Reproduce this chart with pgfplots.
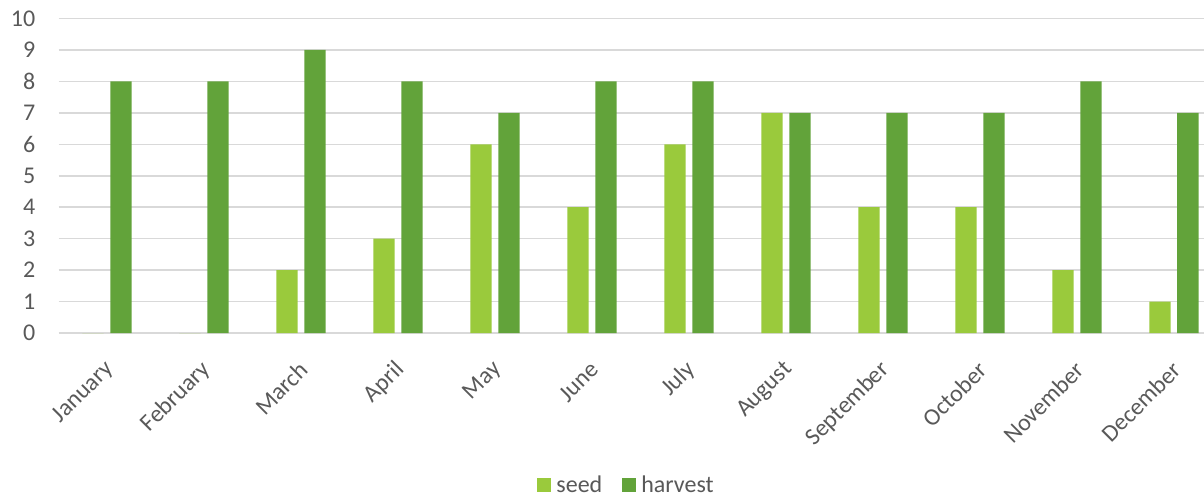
\documentclass[border=0pt]{standalone}
\usepackage{pgfplots}
\pgfplotsset{compat=1.18}
\usepackage{fontspec}
\setmainfont{Carlito}
\definecolor{seedc}{HTML}{9ACA3C}
\definecolor{harvc}{HTML}{62A33A}
\definecolor{gridc}{HTML}{D9D9D9}
\definecolor{txtc}{HTML}{595959}
\begin{document}
\begin{tikzpicture}
\useasboundingbox (0,0) rectangle (1204pt,493pt);
\begin{axis}[
  at={(58.5pt,160pt)}, anchor=south west,
  scale only axis, width=1145.5pt, height=314.5pt,
  xmin=-0.5, xmax=11.31, ymin=0, ymax=10,
  ybar, bar width=0.22,
  axis line style={draw=none},
  ymajorgrids, major grid style={gridc, line width=1.5pt},
  ytick={0,1,...,10}, xtick={0,1,...,11},
  xticklabels={January,February,March,April,May,June,July,August,September,October,November,December},
  major tick length=0pt,
  /pgf/number format/assume math mode=true,
  tick label style={font=\fontsize{24}{28}\selectfont, text=txtc},
  yticklabel style={anchor=east, inner sep=0pt, xshift=-23pt},
  xticklabel style={xshift=3pt, yshift=-33pt, rotate=45, anchor=east, inner sep=0pt},
  legend style={at={(0.4959,-0.4833)}, anchor=center, draw=none, legend columns=2,
    font=\fontsize{24}{28}\selectfont, text=txtc,
    /tikz/every even column/.append style={column sep=18pt}},
  legend image code/.code={\fill[#1] (0pt,-7pt) rectangle (14pt,7pt); \path (17pt,0pt);},
]
\addplot[fill=seedc, draw=none, bar shift=-0.144] coordinates {
(0,0) (1,0) (2,2) (3,3) (4,6) (5,4) (6,6) (7,7) (8,4) (9,4) (10,2) (11,1)};
\addplot[fill=harvc, draw=none, bar shift=0.144] coordinates {
(0,8) (1,8) (2,9) (3,8) (4,7) (5,8) (6,8) (7,7) (8,7) (9,7) (10,8) (11,7)};
\legend{seed, harvest}
\end{axis}
\end{tikzpicture}
\end{document}
